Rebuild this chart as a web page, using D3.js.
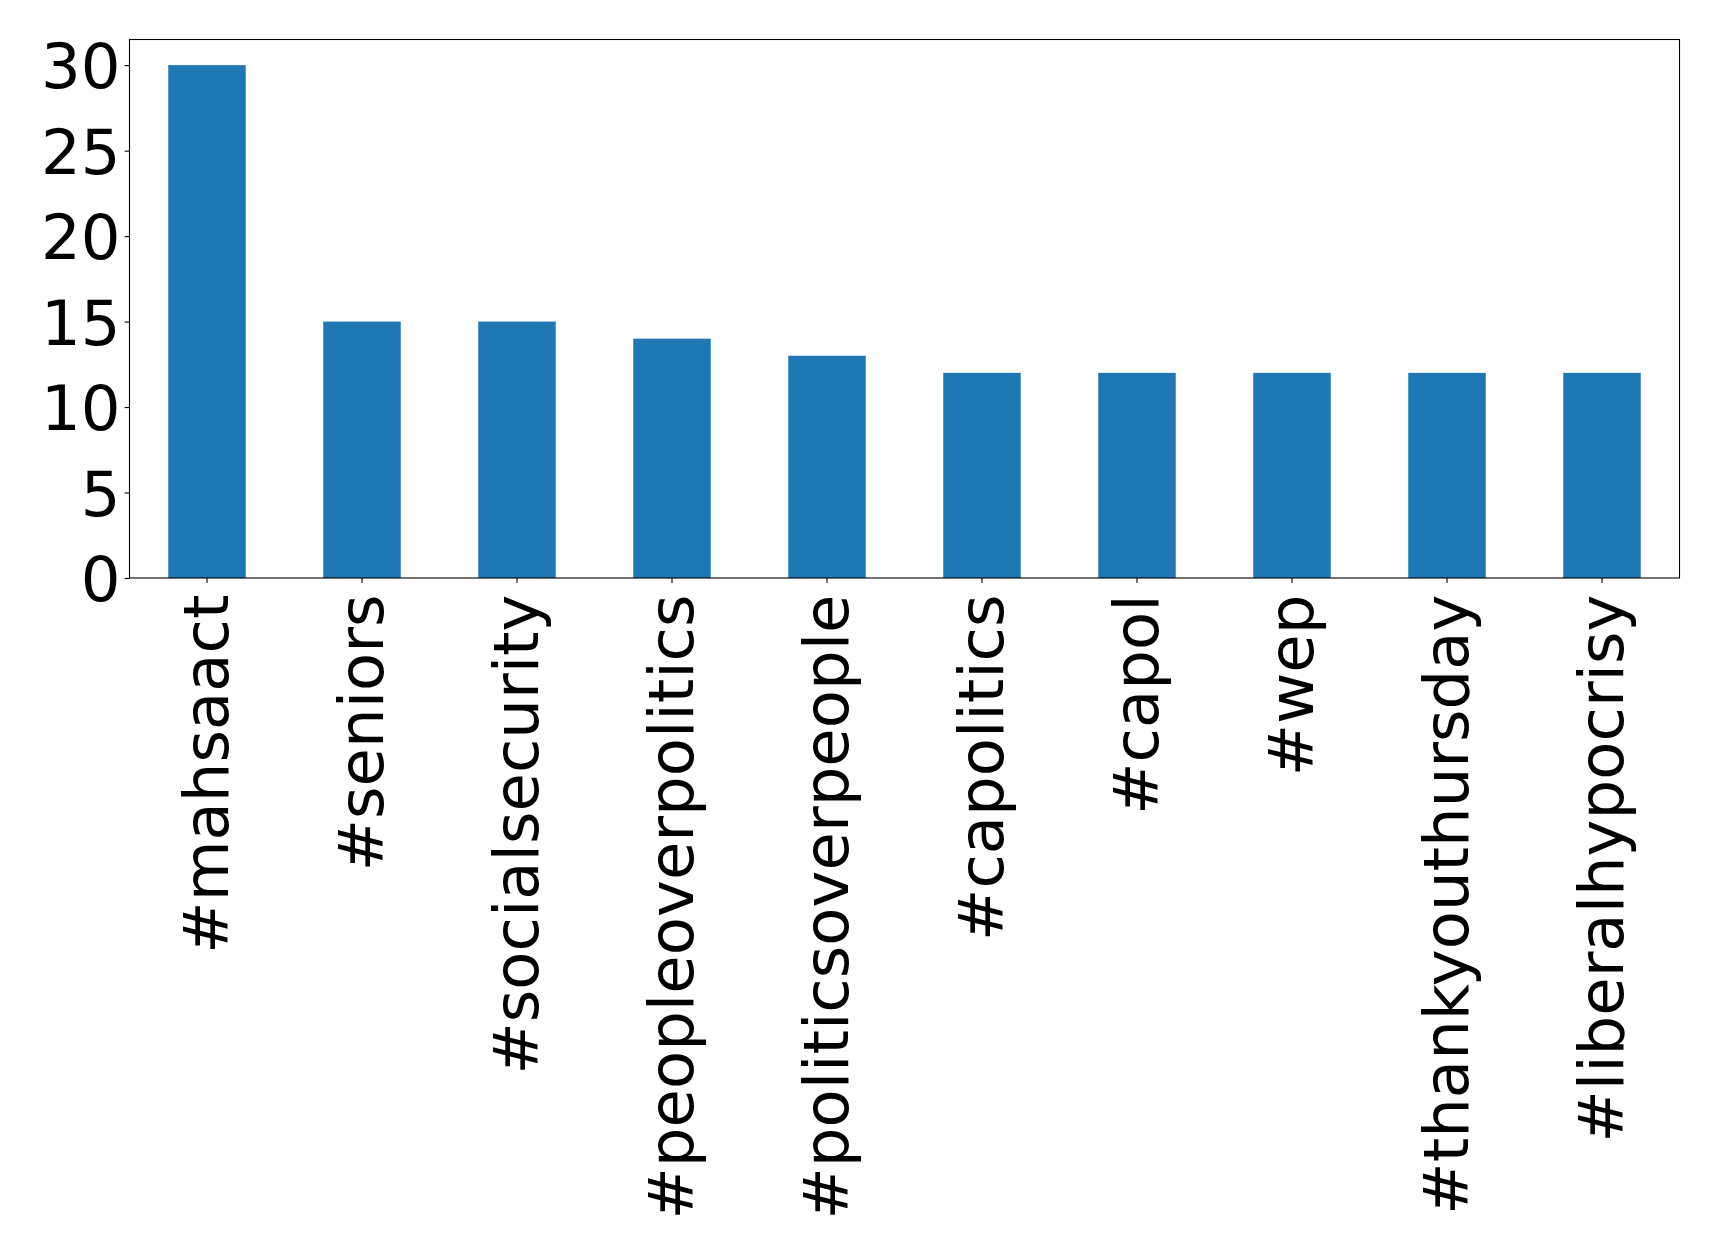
<!DOCTYPE html>
<html><head><meta charset="utf-8">
<script src="https://cdn.jsdelivr.net/npm/d3@7"></script>
<style>html,body{margin:0;padding:0;background:#fff;}</style>
</head><body>
<script>
const categories = ["#mahsaact","#seniors","#socialsecurity","#peopleoverpolitics","#politicsoverpeople","#capolitics","#capol","#wep","#thankyouthursday","#liberalhypocrisy"];
const values = [30,15,15,14,13,12,12,12,12,12];
const yTicks = [0,5,10,15,20,25,30];

const W = 1719, H = 1253;
const m = {left:129.5, top:39.5, right:W-1679.5, bottom:H-578};
const svg = d3.select("body").append("svg").attr("width",W).attr("height",H);
const iw = W - m.left - m.right, ih = H - m.top - m.bottom;
const g = svg.append("g").attr("transform",`translate(${m.left},${m.top})`);

const x = d3.scaleBand().domain(categories).range([0,iw]).paddingInner(0.5).paddingOuter(0.25);
const y = d3.scaleLinear().domain([0,31.5]).range([ih,0]);

g.selectAll("rect.bar").data(values).enter().append("rect")
  .attr("x",(d,i)=>x(categories[i])).attr("width",x.bandwidth())
  .attr("y",d=>y(d)).attr("height",d=>ih-y(d)).attr("fill","#1f77b4");

const fs = "62.5px";
const yAxis = g.append("g").call(d3.axisLeft(y).tickValues(yTicks).tickSize(4.9).tickPadding(4));
yAxis.select(".domain").remove();
yAxis.selectAll("text").attr("font-family","DejaVu Sans").attr("font-size",fs).attr("fill","#000").attr("dy","0.36em");
yAxis.selectAll("line").attr("stroke","#000").attr("stroke-width",1.1);

const xAxis = g.append("g").attr("transform",`translate(0,${ih})`).call(d3.axisBottom(x).tickSize(4.9).tickPadding(0));
xAxis.select(".domain").remove();
xAxis.selectAll("line").attr("stroke","#000").attr("stroke-width",1.1);
xAxis.selectAll("text")
  .attr("font-family","DejaVu Sans").attr("font-size",fs).attr("fill","#000")
  .attr("text-anchor","end").attr("y",0).attr("x",0)
  .attr("transform","translate(0,16.5) rotate(-90)")
  .attr("dy","0.33em").attr("dx","0");

g.append("rect").attr("x",0).attr("y",0).attr("width",iw).attr("height",ih)
  .attr("fill","none").attr("stroke","#000").attr("stroke-width",1.1);
</script>
</body></html>
